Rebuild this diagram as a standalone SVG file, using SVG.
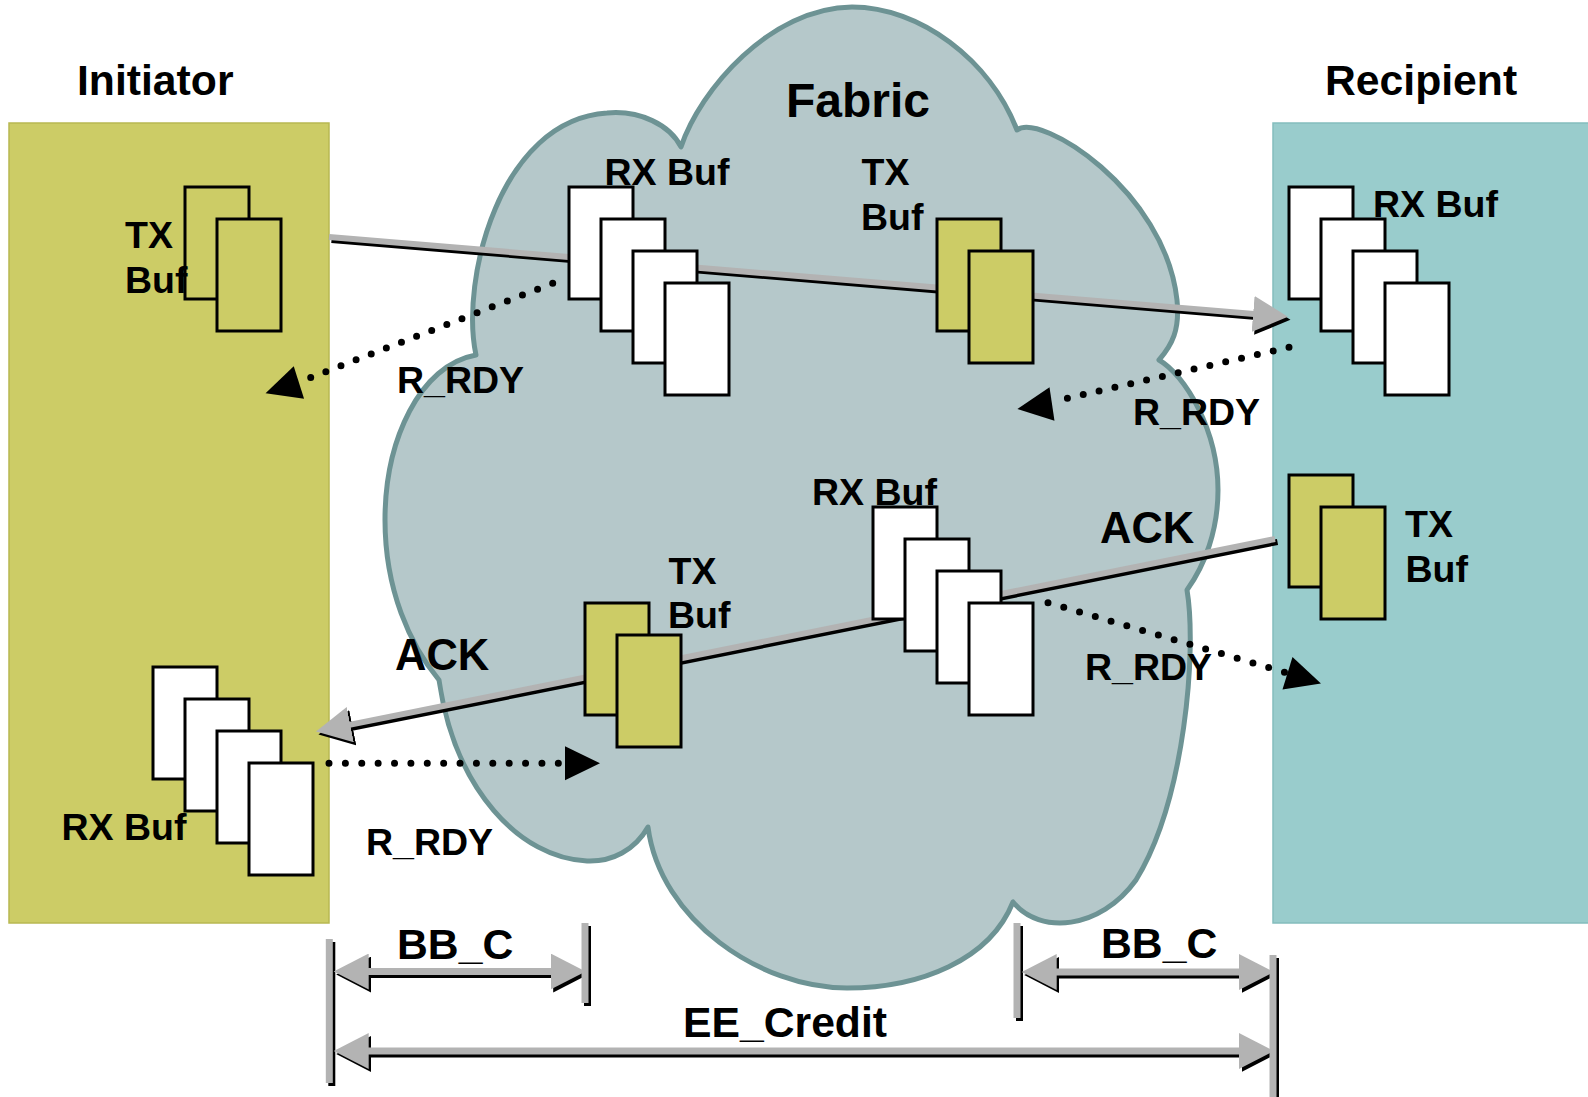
<svg xmlns="http://www.w3.org/2000/svg" width="1588" height="1097" viewBox="0 0 1588 1097">
<style>
  text { font-family: "Liberation Sans", Arial, sans-serif; font-weight: bold; fill: #000; }
  .t42 { font-size: 42.7px; }
  .t43 { font-size: 43.5px; }
  .t48 { font-size: 48px; }
  .t36 { font-size: 37.5px; }
  .buf { stroke: #000; stroke-width: 3; }
  .w { fill: #fff; }
  .o { fill: #CCCC66; }
  .ln { fill: none; stroke-linecap: butt; }
  .k { stroke: #000; }
  .g { stroke: #B3B3B3; }
  .dots { fill: none; stroke: #000; stroke-width: 7; stroke-linecap: round; }
</style>
<defs>
  <marker id="headGray" markerUnits="userSpaceOnUse" viewBox="0 -18 36 36" markerWidth="36" markerHeight="36" refX="1" refY="0" orient="auto-start-reverse">
    <path d="M0,-18 L35,0 L0,18 Z" fill="#B3B3B3"/>
  </marker>
  <marker id="headBlack" markerUnits="userSpaceOnUse" viewBox="0 -18 36 36" markerWidth="36" markerHeight="36" refX="1" refY="0" orient="auto-start-reverse">
    <path d="M0,-18 L35,0 L0,18 Z" fill="#000"/>
  </marker>
  <path id="dotHead" d="M0,-17 L35,0 L0,17 Z" fill="#000"/>
</defs>

<!-- end stations -->
<g id="initiator">
  <rect x="9" y="123" width="320" height="800" fill="#CCCC66" stroke="#B8B852" stroke-width="1.5"/>
  <text class="t42" x="77" y="95">Initiator</text>
</g>
<g id="recipient">
  <rect x="1273" y="123" width="330" height="800" fill="#99CCCC" stroke="#84BDBD" stroke-width="1.5"/>
  <text class="t42" x="1325" y="95">Recipient</text>
</g>

<!-- switching fabric cloud -->
<g id="fabric">
  <path d="M681,147 C700,90 770,8 852,7 C920,7 990,60 1017,130 C1040,112 1165,190 1177,300 C1180,330 1172,345 1159,360 C1185,375 1218,430 1218,490 C1218,530 1205,565 1187,590 C1197,650 1185,800 1136,880 C1100,930 1040,935 1013,902 C990,960 920,988 847,988 C760,988 660,920 648,827 C635,850 612,862 587,861 C520,858 455,790 439,680 C410,645 385,590 385,520 C385,440 420,365 476,355 C460,280 500,120 607,113 C640,110 670,125 681,147 Z" fill="#B5C8CA" stroke="#6D9394" stroke-width="5" stroke-linejoin="round"/>
  <text class="t48" x="786" y="117">Fabric</text>
</g>

<!-- connectors -->
<g id="connectors">
  <!-- frame path Initiator -> Recipient -->
  <g id="frame-arrow">
    <line class="ln k" x1="331.5" y1="240" x2="1256.6" y2="317" stroke-width="6" marker-end="url(#headBlack)"/>
    <line class="ln g" x1="329" y1="237" x2="1254.1" y2="314" stroke-width="6" marker-end="url(#headGray)"/>
  </g>
  <!-- ACK path Recipient -> Initiator -->
  <g id="ack-arrow">
    <line class="ln k" x1="1277.5" y1="542" x2="351.8" y2="727.9" stroke-width="6" marker-end="url(#headBlack)"/>
    <line class="ln g" x1="1275" y1="539" x2="349.3" y2="724.9" stroke-width="6" marker-end="url(#headGray)"/>
  </g>
  <!-- R_RDY signals -->
  <g id="rrdy-1">
    <path class="dots" d="M552.7,283.3 L310.3,377.7" stroke-dasharray="0 16.23"/>
    <use href="#dotHead" transform="translate(298.9,382.5) rotate(162.3)"/>
  </g>
  <g id="rrdy-2">
    <path class="dots" d="M1289,347.3 L1067,398.3" stroke-dasharray="0 16.24"/>
    <use href="#dotHead" transform="translate(1052,404) rotate(171.6)"/>
  </g>
  <g id="rrdy-3">
    <path class="dots" d="M1048,602.7 L1285,672.3" stroke-dasharray="0 16.43"/>
    <use href="#dotHead" transform="translate(1287.5,673.3) rotate(17.1)"/>
  </g>
  <g id="rrdy-4">
    <path class="dots" d="M329,763.3 L558.7,763.3" stroke-dasharray="0 16.38"/>
    <use href="#dotHead" transform="translate(565,763.3)"/>
  </g>
  <!-- credit span dimensions -->
  <g id="spans">
    <g transform="translate(2.5,3)">
      <line class="ln k" x1="329.3" y1="939" x2="329.3" y2="1083" stroke-width="7"/>
      <line class="ln k" x1="585" y1="923" x2="585" y2="1003" stroke-width="7"/>
      <line class="ln k" x1="1017" y1="923" x2="1017" y2="1018" stroke-width="7"/>
      <line class="ln k" x1="1273" y1="955" x2="1273" y2="1100" stroke-width="7"/>
      <line class="ln k" x1="367.7" y1="971.5" x2="551.7" y2="971.5" stroke-width="7" marker-start="url(#headBlack)" marker-end="url(#headBlack)"/>
      <line class="ln k" x1="1055.7" y1="972" x2="1240" y2="972" stroke-width="7" marker-start="url(#headBlack)" marker-end="url(#headBlack)"/>
      <line class="ln k" x1="367.7" y1="1051" x2="1240" y2="1051" stroke-width="7" marker-start="url(#headBlack)" marker-end="url(#headBlack)"/>
    </g>
    <line class="ln g" x1="329.3" y1="939" x2="329.3" y2="1083" stroke-width="7"/>
    <line class="ln g" x1="585" y1="923" x2="585" y2="1003" stroke-width="7"/>
    <line class="ln g" x1="1017" y1="923" x2="1017" y2="1018" stroke-width="7"/>
    <line class="ln g" x1="1273" y1="955" x2="1273" y2="1100" stroke-width="7"/>
    <line class="ln g" x1="367.7" y1="971.5" x2="551.7" y2="971.5" stroke-width="7" marker-start="url(#headGray)" marker-end="url(#headGray)"/>
    <line class="ln g" x1="1055.7" y1="972" x2="1240" y2="972" stroke-width="7" marker-start="url(#headGray)" marker-end="url(#headGray)"/>
    <line class="ln g" x1="367.7" y1="1051" x2="1240" y2="1051" stroke-width="7" marker-start="url(#headGray)" marker-end="url(#headGray)"/>
  </g>
</g>

<!-- buffers -->
<g id="init-tx-buf">
  <rect class="buf o" x="185" y="187" width="64" height="112"/>
  <rect class="buf o" x="217" y="219" width="64" height="112"/>
  <text class="t36" x="125" y="248">TX</text>
  <text class="t36" x="125" y="293">Buf</text>
</g>
<g id="fabric-rx-buf-1">
  <rect class="buf w" x="569" y="187" width="64" height="112"/>
  <rect class="buf w" x="601" y="219" width="64" height="112"/>
  <rect class="buf w" x="633" y="251" width="64" height="112"/>
  <rect class="buf w" x="665" y="283" width="64" height="112"/>
  <text class="t36" x="604.5" y="185">RX Buf</text>
</g>
<g id="fabric-tx-buf-1">
  <rect class="buf o" x="937" y="219" width="64" height="112"/>
  <rect class="buf o" x="969" y="251" width="64" height="112"/>
  <text class="t36" x="861.5" y="185">TX</text>
  <text class="t36" x="861" y="230">Buf</text>
</g>
<g id="recip-rx-buf">
  <rect class="buf w" x="1289" y="187" width="64" height="112"/>
  <rect class="buf w" x="1321" y="219" width="64" height="112"/>
  <rect class="buf w" x="1353" y="251" width="64" height="112"/>
  <rect class="buf w" x="1385" y="283" width="64" height="112"/>
  <text class="t36" x="1373" y="217">RX Buf</text>
</g>
<g id="fabric-rx-buf-2">
  <rect class="buf w" x="873" y="507" width="64" height="112"/>
  <rect class="buf w" x="905" y="539" width="64" height="112"/>
  <rect class="buf w" x="937" y="571" width="64" height="112"/>
  <rect class="buf w" x="969" y="603" width="64" height="112"/>
  <text class="t36" x="812" y="505">RX Buf</text>
</g>
<g id="recip-tx-buf">
  <rect class="buf o" x="1289" y="475" width="64" height="112"/>
  <rect class="buf o" x="1321" y="507" width="64" height="112"/>
  <text class="t36" x="1405" y="537">TX</text>
  <text class="t36" x="1405.5" y="582">Buf</text>
</g>
<g id="fabric-tx-buf-2">
  <rect class="buf o" x="585" y="603" width="64" height="112"/>
  <rect class="buf o" x="617" y="635" width="64" height="112"/>
  <text class="t36" x="668.5" y="584">TX</text>
  <text class="t36" x="668" y="628">Buf</text>
</g>
<g id="init-rx-buf">
  <rect class="buf w" x="153" y="667" width="64" height="112"/>
  <rect class="buf w" x="185" y="699" width="64" height="112"/>
  <rect class="buf w" x="217" y="731" width="64" height="112"/>
  <rect class="buf w" x="249" y="763" width="64" height="112"/>
  <text class="t36" x="61.5" y="840">RX Buf</text>
</g>

<!-- signal and span labels -->
<g id="labels">
  <text class="t36" x="397" y="392.7">R_RDY</text>
  <text class="t36" x="1133" y="424.5">R_RDY</text>
  <text class="t36" x="1085" y="680">R_RDY</text>
  <text class="t36" x="366" y="855">R_RDY</text>
  <text class="t43" x="1100" y="543">ACK</text>
  <text class="t43" x="395" y="670">ACK</text>
  <text class="t42" x="397" y="959">BB_C</text>
  <text class="t42" x="1101" y="958">BB_C</text>
  <text class="t42" x="683" y="1037">EE_Credit</text>
</g>
</svg>
